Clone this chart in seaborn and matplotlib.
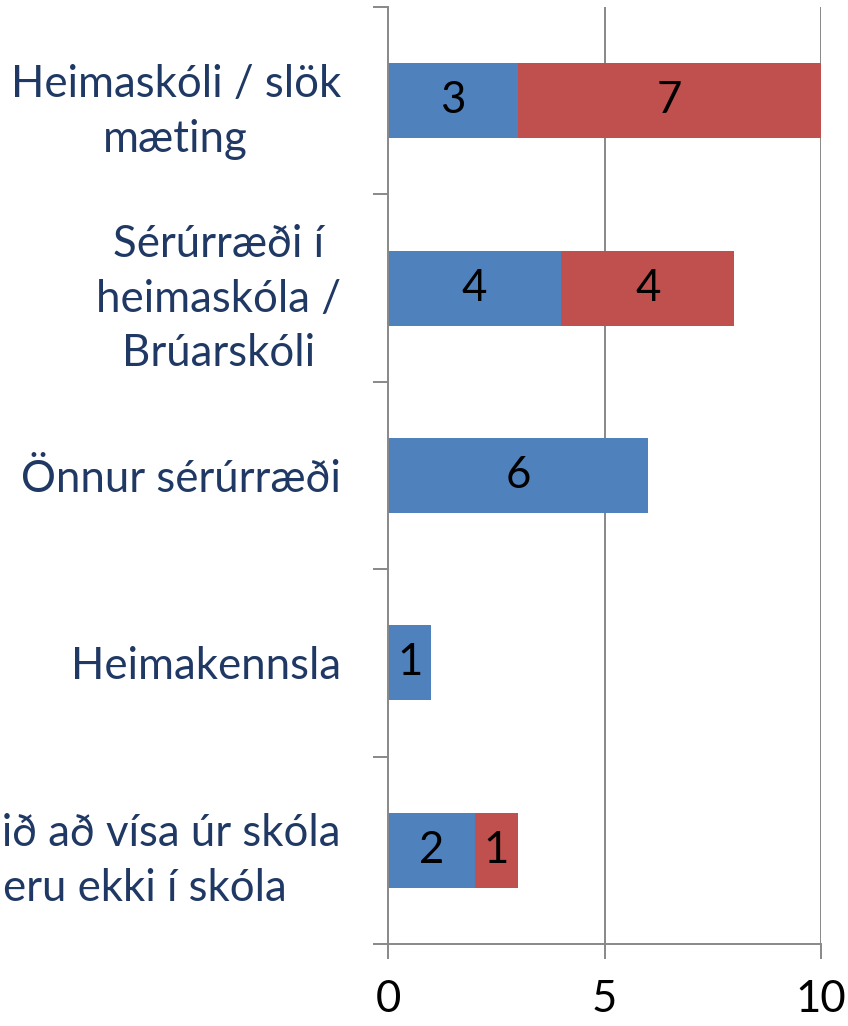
import matplotlib
matplotlib.use("Agg")
import matplotlib.pyplot as plt
import numpy as np
import pandas as pd
import seaborn as sns

# data
categories = ["Heimaskóli / slök\nmæting", "Sérúrræði í\nheimaskóla /\nBrúarskóli",
              "Önnur sérúrræði", "Heimakennsla", "Búið að vísa úr skóla\neru ekki í skóla"]
blue_vals = [3, 4, 6, 1, 2]
red_vals = [7, 4, 0, 0, 1]
x_ticks = [0, 5, 10]

blue = "#4F81BD"
red = "#C0504D"
navy = "#1F3864"
grey = "#888888"

df = pd.DataFrame({"cat": categories, "blue": blue_vals, "red": red_vals})
df["total"] = df["blue"] + df["red"]

sns.set_style("white")
plt.rcParams["font.family"] = ["Lato", "DejaVu Sans"]

fig = plt.figure(figsize=(8.48, 10.26), dpi=100)
ax = fig.add_axes([388 / 848, 1 - 944 / 1026, (821 - 388) / 848, (944 - 7) / 1026])

# red = total drawn first, blue on top
sns.barplot(data=df, y="cat", x="total", color=red, width=0.4, linewidth=0, saturation=1, ax=ax)
sns.barplot(data=df, y="cat", x="blue", color=blue, width=0.4, linewidth=0, saturation=1, ax=ax)

fs = 31.5

# segment labels
for i, (b, r) in enumerate(zip(blue_vals, red_vals)):
    if b:
        ax.text(b / 2, i, str(b), ha="center", va="center", fontsize=fs, color="black")
    if r:
        ax.text(b + r / 2, i, str(r), ha="center", va="center", fontsize=fs, color="black")

ax.set_xlim(0, 10)
ax.set_ylim(4.5, -0.5)
ax.set_xticks(x_ticks)
ax.set_xticklabels([str(t) for t in x_ticks], fontsize=fs, color="black")
ax.set_yticks(range(len(categories)))
ax.set_yticklabels(categories, fontsize=fs, color=navy, multialignment="center", linespacing=1.42)
ax.set_yticks(np.arange(-0.5, len(categories), 1), minor=True)
ax.set_xlabel("")
ax.set_ylabel("")

ax.tick_params(axis="y", which="major", length=0, pad=34)
ax.tick_params(axis="y", which="minor", length=11, width=1.4, color=grey, direction="out", left=True)
ax.tick_params(axis="x", which="major", length=11, width=1.4, color=grey, direction="out", bottom=True, pad=14)

for t in x_ticks[1:]:
    ax.axvline(t, color=grey, linewidth=1.4, zorder=0)

for s in ["top", "right"]:
    ax.spines[s].set_visible(False)
for s in ["left", "bottom"]:
    ax.spines[s].set_color(grey)
    ax.spines[s].set_linewidth(1.4)

fig.savefig("out.png", dpi=100)
